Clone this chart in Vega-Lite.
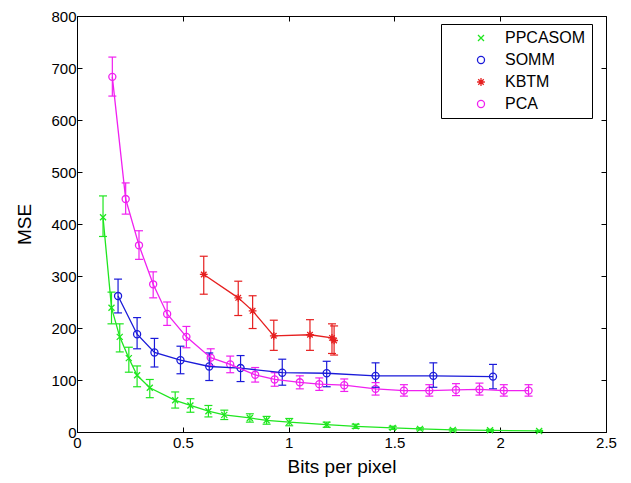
{
  "$schema": "https://vega.github.io/schema/vega-lite/v6.json",
  "width": 529,
  "height": 416,
  "autosize": {"type": "none"},
  "padding": {"left": 77, "top": 16, "right": 25, "bottom": 51},
  "background": "white",
  "config": {
    "view": {"stroke": "black", "strokeWidth": 1},
    "axis": {
      "domainColor": "black",
      "domainWidth": 1,
      "tickColor": "black",
      "tickSize": -5,
      "grid": false,
      "labelFont": "Liberation Sans",
      "labelFontSize": 15,
      "labelColor": "black",
      "titleFont": "Liberation Sans",
      "titleFontSize": 19,
      "titleFontWeight": "normal",
      "titleColor": "black"
    },
    "legend": {
      "orient": "none", "legendX": 364, "legendY": 8,
      "strokeColor": "black", "fillColor": "white", "padding": 6,
      "labelFont": "Liberation Sans", "labelFontSize": 16, "labelColor": "black",
      "symbolSize": 50, "symbolStrokeWidth": 1.3, "rowPadding": 6,
      "labelOffset": 16, "symbolOffset": 26
    }
  },
  "data": {
    "values": [
      {"method": "PPCASOM", "x": 0.123, "y": 413, "lo": 376, "hi": 454},
      {"method": "PPCASOM", "x": 0.163, "y": 239, "lo": 208, "hi": 269},
      {"method": "PPCASOM", "x": 0.202, "y": 183, "lo": 154, "hi": 208},
      {"method": "PPCASOM", "x": 0.245, "y": 142, "lo": 115, "hi": 163},
      {"method": "PPCASOM", "x": 0.284, "y": 109, "lo": 87, "hi": 127},
      {"method": "PPCASOM", "x": 0.344, "y": 85, "lo": 66, "hi": 101},
      {"method": "PPCASOM", "x": 0.464, "y": 61, "lo": 46, "hi": 77},
      {"method": "PPCASOM", "x": 0.536, "y": 51, "lo": 38, "hi": 64},
      {"method": "PPCASOM", "x": 0.621, "y": 40, "lo": 29, "hi": 51},
      {"method": "PPCASOM", "x": 0.696, "y": 33, "lo": 24, "hi": 42},
      {"method": "PPCASOM", "x": 0.817, "y": 27, "lo": 19, "hi": 35},
      {"method": "PPCASOM", "x": 0.896, "y": 22.5, "lo": 15, "hi": 30},
      {"method": "PPCASOM", "x": 1.003, "y": 19, "lo": 12, "hi": 26},
      {"method": "PPCASOM", "x": 1.18, "y": 14, "lo": 9, "hi": 19},
      {"method": "PPCASOM", "x": 1.317, "y": 11, "lo": 7, "hi": 15},
      {"method": "PPCASOM", "x": 1.492, "y": 8, "lo": 5, "hi": 11},
      {"method": "PPCASOM", "x": 1.621, "y": 6, "lo": 4, "hi": 8},
      {"method": "PPCASOM", "x": 1.776, "y": 4, "lo": 2, "hi": 6},
      {"method": "PPCASOM", "x": 1.952, "y": 3.3, "lo": 1.5, "hi": 5},
      {"method": "PPCASOM", "x": 2.184, "y": 2, "lo": 1, "hi": 3},
      {"method": "SOMM", "x": 0.194, "y": 261.5, "lo": 229, "hi": 294},
      {"method": "SOMM", "x": 0.284, "y": 188, "lo": 160, "hi": 220},
      {"method": "SOMM", "x": 0.366, "y": 153, "lo": 125, "hi": 180},
      {"method": "SOMM", "x": 0.489, "y": 138, "lo": 112, "hi": 165},
      {"method": "SOMM", "x": 0.625, "y": 126, "lo": 99, "hi": 152},
      {"method": "SOMM", "x": 0.773, "y": 123, "lo": 97, "hi": 147},
      {"method": "SOMM", "x": 0.97, "y": 114, "lo": 90, "hi": 140},
      {"method": "SOMM", "x": 1.18, "y": 113, "lo": 87, "hi": 136},
      {"method": "SOMM", "x": 1.411, "y": 108, "lo": 86, "hi": 133},
      {"method": "SOMM", "x": 1.684, "y": 108, "lo": 86, "hi": 133},
      {"method": "SOMM", "x": 1.966, "y": 106.5, "lo": 83, "hi": 130},
      {"method": "KBTM", "x": 0.599, "y": 303, "lo": 265, "hi": 338},
      {"method": "KBTM", "x": 0.762, "y": 258, "lo": 224, "hi": 290},
      {"method": "KBTM", "x": 0.83, "y": 233, "lo": 199, "hi": 262},
      {"method": "KBTM", "x": 0.93, "y": 185, "lo": 157, "hi": 215},
      {"method": "KBTM", "x": 1.101, "y": 187, "lo": 157, "hi": 216},
      {"method": "KBTM", "x": 1.205, "y": 181, "lo": 151, "hi": 208},
      {"method": "KBTM", "x": 1.215, "y": 176, "lo": 148, "hi": 204},
      {"method": "PCA", "x": 0.167, "y": 683, "lo": 646, "hi": 721},
      {"method": "PCA", "x": 0.23, "y": 448, "lo": 419, "hi": 479},
      {"method": "PCA", "x": 0.293, "y": 359, "lo": 332, "hi": 387},
      {"method": "PCA", "x": 0.36, "y": 284, "lo": 258, "hi": 308},
      {"method": "PCA", "x": 0.426, "y": 227, "lo": 205, "hi": 250},
      {"method": "PCA", "x": 0.517, "y": 183, "lo": 162, "hi": 203},
      {"method": "PCA", "x": 0.632, "y": 143, "lo": 127, "hi": 160},
      {"method": "PCA", "x": 0.724, "y": 130, "lo": 114, "hi": 146},
      {"method": "PCA", "x": 0.842, "y": 110, "lo": 96, "hi": 124},
      {"method": "PCA", "x": 0.934, "y": 101, "lo": 88, "hi": 114},
      {"method": "PCA", "x": 1.053, "y": 95.6, "lo": 83, "hi": 108},
      {"method": "PCA", "x": 1.145, "y": 92, "lo": 80, "hi": 104},
      {"method": "PCA", "x": 1.263, "y": 90, "lo": 78, "hi": 102},
      {"method": "PCA", "x": 1.411, "y": 83, "lo": 71, "hi": 95},
      {"method": "PCA", "x": 1.545, "y": 79.6, "lo": 69, "hi": 91},
      {"method": "PCA", "x": 1.665, "y": 79.6, "lo": 69, "hi": 91},
      {"method": "PCA", "x": 1.791, "y": 81, "lo": 70, "hi": 93},
      {"method": "PCA", "x": 1.902, "y": 82, "lo": 71, "hi": 94},
      {"method": "PCA", "x": 2.017, "y": 79.6, "lo": 69, "hi": 91},
      {"method": "PCA", "x": 2.134, "y": 79.6, "lo": 69, "hi": 91}
    ]
  },
  "layer": [
    {
      "mark": {"type": "point", "filled": false, "size": 50, "strokeWidth": 1.3, "opacity": 1},
      "encoding": {
        "x": {"field": "x", "type": "quantitative", "scale": {"domain": [0, 2.5], "nice": false},
              "axis": {"orient": "bottom", "values": [0, 0.5, 1, 1.5, 2, 2.5], "format": "~g", "labelPadding": 8, "title": "Bits per pixel", "titlePadding": 7, "labelFlush": false}},
        "y": {"field": "y", "type": "quantitative", "scale": {"domain": [0, 800], "nice": false},
              "axis": {"orient": "left", "values": [0, 100, 200, 300, 400, 500, 600, 700, 800], "labelPadding": 6, "title": "MSE", "titlePadding": 16, "labelFlush": false}},
        "color": {"field": "method", "type": "nominal",
                  "scale": {"domain": ["PPCASOM", "SOMM", "KBTM", "PCA"], "range": ["#1fe61f", "#1a1ad9", "#e62020", "#f020f0"]},
                  "legend": {"title": null, "labelExpr": "datum.label + '     '"}},
        "shape": {"field": "method", "type": "nominal",
                  "scale": {"domain": ["PPCASOM", "SOMM", "KBTM", "PCA"],
                            "range": ["M-0.85,-0.85L0.85,0.85M-0.85,0.85L0.85,-0.85", "circle", "M0,-1.1L0,1.1M-1.1,0L1.1,0M-0.78,-0.78L0.78,0.78M-0.78,0.78L0.78,-0.78", "circle"]},
                  "legend": {"title": null, "labelExpr": "datum.label + '     '"}}
      }
    },
    {
      "mark": {"type": "rule", "strokeWidth": 1.2},
      "encoding": {
        "x": {"field": "x", "type": "quantitative", "axis": null},
        "y": {"field": "lo", "type": "quantitative", "axis": null},
        "y2": {"field": "hi"},
        "color": {"field": "method", "type": "nominal", "legend": {"title": null, "labelExpr": "datum.label + '     '"}}
      }
    },
    {
      "mark": {"type": "point", "shape": "M-1,0L1,0", "filled": false, "size": 64, "strokeWidth": 1.2, "opacity": 1},
      "encoding": {
        "x": {"field": "x", "type": "quantitative", "axis": null},
        "y": {"field": "lo", "type": "quantitative", "axis": null},
        "color": {"field": "method", "type": "nominal", "legend": {"title": null, "labelExpr": "datum.label + '     '"}}
      }
    },
    {
      "mark": {"type": "point", "shape": "M-1,0L1,0", "filled": false, "size": 64, "strokeWidth": 1.2, "opacity": 1},
      "encoding": {
        "x": {"field": "x", "type": "quantitative", "axis": null},
        "y": {"field": "hi", "type": "quantitative", "axis": null},
        "color": {"field": "method", "type": "nominal", "legend": {"title": null, "labelExpr": "datum.label + '     '"}}
      }
    },
    {
      "mark": {"type": "line", "strokeWidth": 1.3},
      "encoding": {
        "x": {"field": "x", "type": "quantitative",
              "axis": {"orient": "top", "values": [0, 0.5, 1, 1.5, 2, 2.5], "labels": false, "domain": false, "title": null}},
        "y": {"field": "y", "type": "quantitative",
              "axis": {"orient": "right", "values": [0, 100, 200, 300, 400, 500, 600, 700, 800], "labels": false, "domain": false, "title": null}},
        "color": {"field": "method", "type": "nominal", "legend": {"title": null, "labelExpr": "datum.label + '     '"}}
      }
    }
  ],
  "resolve": {"axis": {"x": "independent", "y": "independent"}}
}
